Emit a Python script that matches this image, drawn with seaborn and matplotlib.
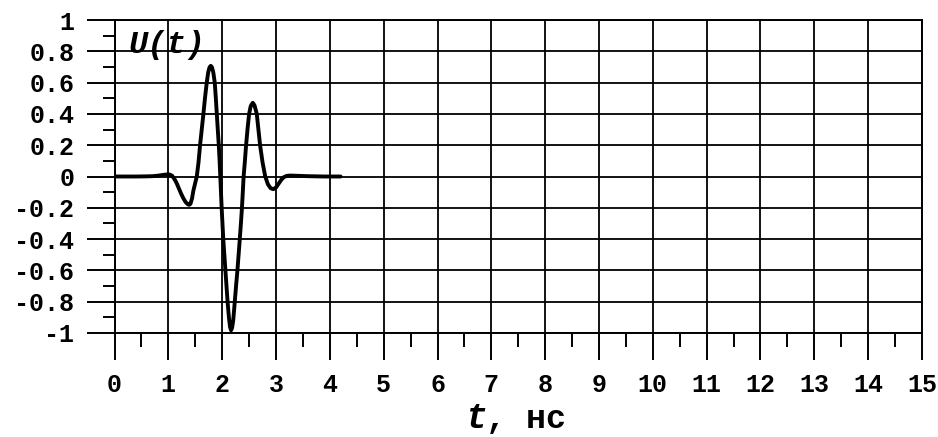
import matplotlib
matplotlib.use("Agg")
import matplotlib.pyplot as plt
from matplotlib.ticker import MultipleLocator
import pandas as pd
import seaborn as sns

# ---- data ----
t_ns = [0.0, 0.4, 0.6, 0.7, 0.8, 0.9, 0.97, 1.02, 1.07, 1.12, 1.16, 1.20, 1.24,
        1.28, 1.32, 1.36, 1.385, 1.41, 1.44, 1.465, 1.50, 1.528, 1.56, 1.589,
        1.62, 1.651, 1.68, 1.713, 1.74, 1.765, 1.788, 1.81, 1.835, 1.862, 1.88,
        1.90, 1.92, 1.937, 1.952, 1.965, 1.99, 2.02, 2.06, 2.10, 2.125, 2.145,
        2.165, 2.185, 2.205, 2.234, 2.26, 2.283, 2.305, 2.327, 2.35, 2.367,
        2.383, 2.398, 2.42, 2.444, 2.47, 2.50, 2.53, 2.568, 2.60, 2.643, 2.67,
        2.704, 2.75, 2.80, 2.85, 2.90, 2.95, 3.00, 3.05, 3.10, 3.15, 3.20, 3.26,
        3.35, 3.6, 3.9, 4.2]
u_vals = [0.0, 0.0, 0.001, 0.002, 0.005, 0.010, 0.013, 0.013, 0.005, -0.02,
          -0.047, -0.08, -0.112, -0.140, -0.163, -0.177, -0.181, -0.175,
          -0.14, -0.09, -0.04, 0.0, 0.09, 0.2, 0.30, 0.4, 0.5, 0.6, 0.665,
          0.698, 0.707, 0.698, 0.665, 0.6, 0.51, 0.4, 0.29, 0.2, 0.1, 0.0,
          -0.2, -0.4, -0.6, -0.8, -0.90, -0.96, -0.983, -0.965, -0.92, -0.8,
          -0.69, -0.6, -0.5, -0.4, -0.29, -0.2, -0.1, 0.0, 0.09, 0.2, 0.3,
          0.4, 0.45, 0.471, 0.455, 0.4, 0.31, 0.2, 0.09, 0.0, -0.05, -0.075,
          -0.081, -0.07, -0.045, -0.02, -0.003, 0.004, 0.006, 0.005, 0.002,
          0.0, 0.0]

x_ticks = list(range(0, 16))
x_tick_labels = [str(v) for v in x_ticks]
y_ticks = [1.0, 0.8, 0.6, 0.4, 0.2, 0.0, -0.2, -0.4, -0.6, -0.8, -1.0]
y_tick_labels = ["1", "0.8", "0.6", "0.4", "0.2", "0",
                 "-0.2", "-0.4", "-0.6", "-0.8", "-1"]
curve_label = "U(t)"
x_label_var = "t"
x_label_unit = ", нс"

# ---- style ----
sns.set_theme(style="ticks")
plt.rcParams['font.family'] = ['Liberation Mono', 'DejaVu Sans']
plt.rcParams['font.weight'] = 'bold'

fig = plt.figure(figsize=(9.38, 4.37), dpi=100)
ax = fig.add_axes([0.1221, 0.238, 0.8608, 0.7162])

df = pd.DataFrame({"t": t_ns, "U": u_vals})
sns.lineplot(data=df, x="t", y="U", ax=ax, color="black", linewidth=2.8,
             sort=False, zorder=5)

ax.set_xlim(0, 15)
ax.set_ylim(-1, 1)
ax.set_xticks(x_ticks)
ax.set_xticklabels(x_tick_labels)
ax.set_yticks(y_ticks)
ax.set_yticklabels(y_tick_labels)
ax.xaxis.set_minor_locator(MultipleLocator(0.5))
ax.yaxis.set_minor_locator(MultipleLocator(0.1))

ax.tick_params(axis='x', which='both', bottom=True, top=False)
ax.tick_params(axis='y', which='both', left=True, right=False)
ax.tick_params(axis='x', which='major', direction='out', length=19.5, width=1.4,
               color='black', pad=9, labelsize=18, labelcolor='black')
ax.tick_params(axis='x', which='minor', direction='out', length=10, width=1.4,
               color='black')
ax.tick_params(axis='y', which='major', direction='out', length=20, width=1.4,
               color='black', pad=9, labelsize=18, labelcolor='black')
ax.tick_params(axis='y', which='minor', direction='out', length=8.6, width=1.4,
               color='black')
ax.grid(True, which='major', color='black', linewidth=1.3)
ax.grid(False, which='minor')
for s in ax.spines.values():
    s.set_visible(True)
    s.set_color('black')
    s.set_linewidth(1.4)
ax.set_xlabel('')
ax.set_ylabel('')

ax.text(0.25, 0.79, curve_label, fontstyle='italic', fontweight='bold',
        fontsize=23, va='baseline', ha='left', color='black', zorder=6)

fig.text(465.5 / 938, 1 - 428 / 437, x_label_var, fontstyle='italic',
         fontweight='bold', fontsize=26, va='baseline', ha='left', color='black')
fig.text(486 / 938, 1 - 428 / 437, x_label_unit, fontweight='bold',
         fontsize=24, va='baseline', ha='left', color='black')

fig.savefig("out.png", dpi=100)
